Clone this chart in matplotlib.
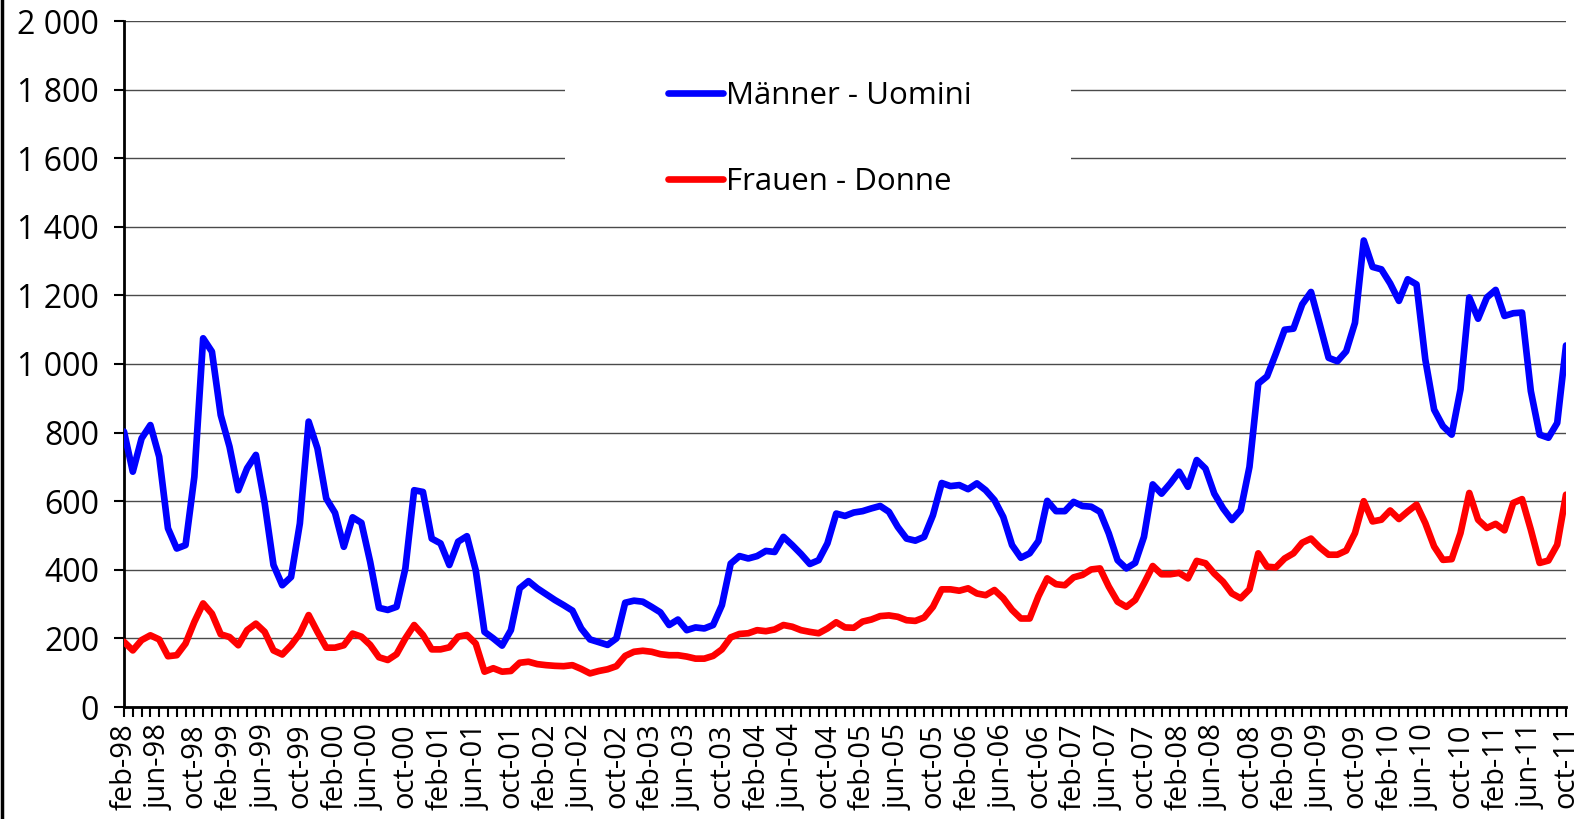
import matplotlib
matplotlib.use("Agg")
import matplotlib.pyplot as plt
from matplotlib.patches import Rectangle
from matplotlib.lines import Line2D
from matplotlib.ticker import FuncFormatter, MultipleLocator

plt.rcParams['font.family'] = ['Open Sans', 'DejaVu Sans']

month_names = ["jan", "feb", "mar", "apr", "may", "jun",
               "jul", "aug", "sep", "oct", "nov", "dec"]
start_year = 1998
start_month = 2  # february

men = [803, 686, 783, 822, 730, 521, 462, 472, 671, 1075, 1036, 851, 759, 632, 696, 735,
       594, 414, 355, 379, 535, 832, 754, 608, 566, 467, 553, 537, 423, 289, 283, 292,
       404, 632, 627, 491, 477, 414, 482, 498, 399, 219, 200, 179, 224, 346, 367, 346,
       329, 312, 297, 281, 229, 197, 189, 181, 200, 304, 310, 307, 292, 276, 239, 255,
       224, 232, 229, 239, 297, 418, 440, 433, 440, 455, 452, 496, 472, 446, 417, 428,
       477, 564, 557, 567, 571, 579, 586, 569, 525, 491, 485, 496, 559, 653, 644, 647,
       635, 652, 632, 603, 554, 472, 435, 448, 484, 601, 571, 571, 598, 586, 584, 569,
       506, 428, 404, 420, 496, 649, 622, 652, 686, 642, 720, 695, 622, 579, 545, 574,
       700, 943, 964, 1030, 1100, 1103, 1174, 1210, 1115, 1018, 1008, 1037, 1120, 1360, 1283, 1276,
       1235, 1184, 1247, 1232, 1013, 867, 819, 794, 926, 1194, 1132, 1194, 1216, 1140, 1148, 1150,
       921, 794, 785, 828, 1054]

women = [190, 165, 195, 209, 197, 148, 151, 185, 248, 302, 272, 212, 204, 180, 224, 243,
         219, 165, 153, 180, 214, 268, 219, 173, 173, 180, 214, 205, 181, 145, 137, 154,
         200, 239, 210, 168, 168, 174, 205, 210, 185, 103, 113, 103, 105, 129, 132, 125,
         122, 120, 119, 122, 111, 98, 105, 110, 119, 149, 161, 164, 161, 154, 151, 151,
         147, 141, 141, 149, 168, 203, 213, 215, 224, 221, 226, 239, 234, 224, 219, 215,
         229, 247, 232, 231, 249, 255, 265, 267, 263, 253, 251, 261, 292, 343, 343, 339,
         346, 331, 326, 341, 317, 283, 258, 258, 323, 375, 358, 355, 378, 385, 401, 404,
         351, 307, 292, 312, 360, 411, 387, 387, 391, 375, 426, 419, 389, 365, 331, 317,
         343, 448, 409, 407, 433, 448, 479, 491, 465, 444, 444, 456, 507, 600, 541, 546,
         573, 548, 570, 590, 536, 468, 429, 431, 507, 624, 546, 522, 534, 515, 595, 606,
         517, 420, 427, 473, 619]

series_labels = ["Männer - Uomini", "Frauen - Donne"]

n = len(men)
categories = []
for k in range(n):
    m = (start_month - 1 + k) % 12
    y = start_year + (start_month - 1 + k) // 12
    categories.append(f"{month_names[m]}-{y % 100:02d}")

W, H = 1581, 819
fig = plt.figure(figsize=(W / 100, H / 100), dpi=100)
ax = fig.add_axes([124 / W, 1 - 707 / H, (1566 - 124) / W, 686 / H])

x = list(range(n))
LW = 4.8
ax.plot(x, men, color='#0000FF', lw=LW, solid_joinstyle='round',
        solid_capstyle='round', label=series_labels[0], zorder=4)
ax.plot(x, women, color='#FF0000', lw=LW, solid_joinstyle='round',
        solid_capstyle='round', label=series_labels[1], zorder=4)

ax.set_xlim(0, n - 1)
ax.set_ylim(0, 2000)
ax.yaxis.set_major_locator(MultipleLocator(200))
ax.yaxis.set_major_formatter(FuncFormatter(lambda v, p: f"{int(v):,}".replace(",", " ")))

ax.set_xticks(x, minor=True)
ax.set_xticks(x[::4])
ax.set_xticklabels(categories[::4], rotation=90, va='top', ha='center')

ax.grid(axis='y', color='#4a4a4a', lw=1.0, zorder=1)
ax.set_axisbelow(True)
for s in ['top', 'right']:
    ax.spines[s].set_visible(False)
for s in ['left', 'bottom']:
    ax.spines[s].set_linewidth(2)
    ax.spines[s].set_color('black')

ax.tick_params(axis='y', which='major', length=7, width=1.5, pad=11, labelsize=23)
ax.tick_params(axis='x', which='both', length=7, width=1.5, direction='out')
ax.tick_params(axis='x', which='major', pad=5, labelsize=21)

# white legend area covering gridlines
ax.add_patch(Rectangle((0.306, 0.732), 0.351, 0.24, transform=ax.transAxes,
                       facecolor='white', edgecolor='none', zorder=2))

leg = ax.legend(loc='upper left', bbox_to_anchor=(0.377, 0.912), frameon=False,
                fontsize=22.5, handlelength=1.76, handletextpad=0.1,
                labelspacing=1.78, borderpad=0, borderaxespad=0)
for h in leg.get_lines():
    h.set_linewidth(LW)

# left border of chart frame
fig.add_artist(Line2D([0.0012, 0.0012], [0, 1], transform=fig.transFigure,
                      color='black', lw=2.5))

fig.savefig("out.png", dpi=100)
